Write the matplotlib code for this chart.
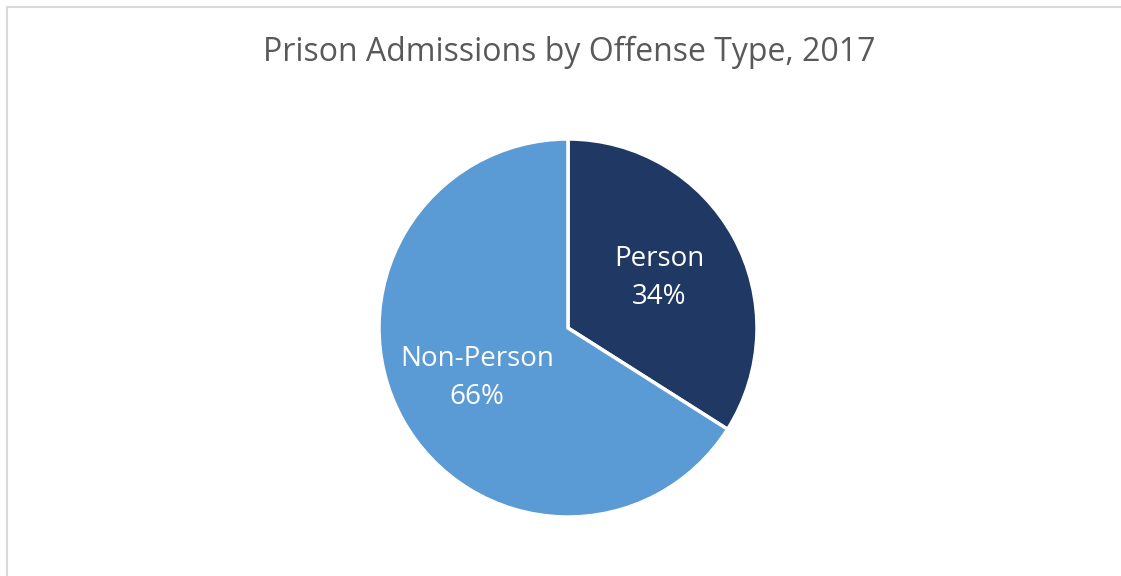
import matplotlib

matplotlib.use("Agg")

import matplotlib.pyplot as plt  # noqa: E402
from matplotlib.patches import Rectangle  # noqa: E402

TITLE = "Prison Admissions by Offense Type, 2017"
categories = ["Person", "Non-Person"]
shares = [34, 66]
colors = ["#203864", "#5B9BD5"]

plt.rcParams["font.family"] = ["Open Sans", "DejaVu Sans"]

W, H = 1121, 576
fig = plt.figure(figsize=(W / 100, H / 100), dpi=100)

# thin grey chart frame (top and left edges visible, rest runs off the image)
fig.patches.append(Rectangle((7 / W, -0.1), 1.2, 1 - 7 / H + 0.1, transform=fig.transFigure,
                             fill=False, edgecolor="#d9d9d9", linewidth=1.5))

fig.text(569 / W, 1 - 52 / H, TITLE, ha="center", va="center", fontsize=23, color="#595959")

cx, cy, r = 568, 328, 189
ax = fig.add_axes([(cx - r) / W, 1 - (cy + r) / H, 2 * r / W, 2 * r / H])
labels = [f"{c}\n{v}%" for c, v in zip(categories, shares)]
wedges, texts = ax.pie(shares, labels=labels, colors=colors, startangle=90, counterclock=False,
                       labeldistance=0.55, wedgeprops=dict(edgecolor="white", linewidth=2.5),
                       textprops=dict(color="white", fontsize=20, linespacing=1.45))
for t in texts:
    t.set_ha("center")
    t.set_va("center")
ax.set_xlim(-1, 1)
ax.set_ylim(-1, 1)
ax.set_aspect("equal")

fig.savefig("out.png", dpi=100)
